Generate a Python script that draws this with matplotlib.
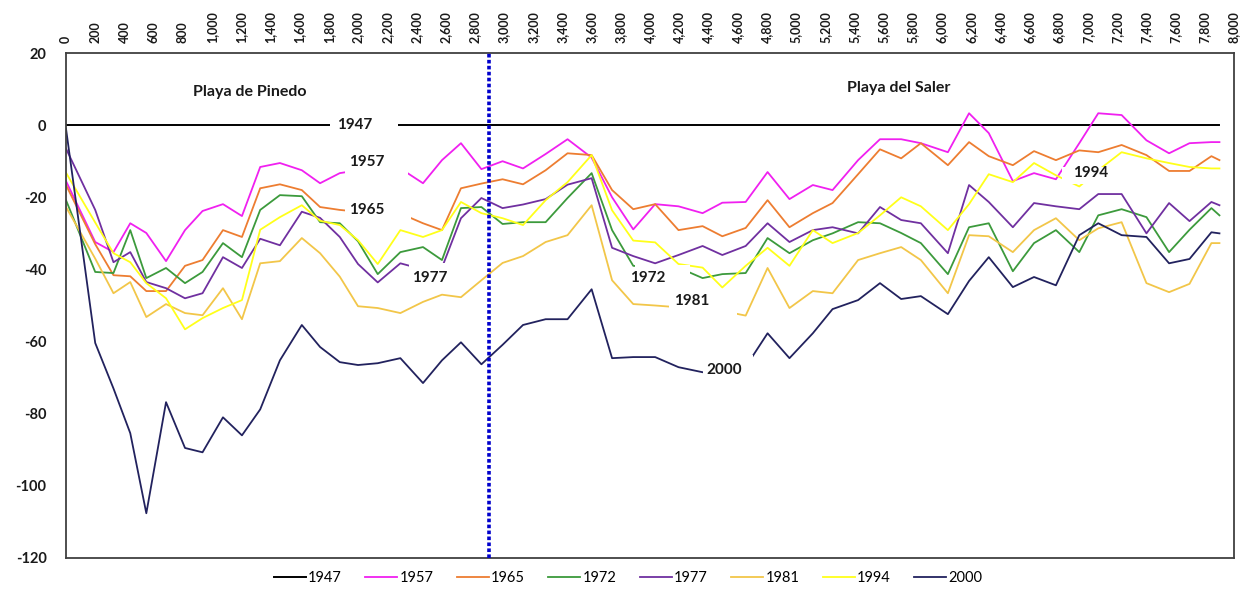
import matplotlib
matplotlib.use("Agg")
import matplotlib.pyplot as plt
from matplotlib.patches import Rectangle
from matplotlib.ticker import FuncFormatter

plt.rcParams['font.family'] = ['Lato', 'DejaVu Sans']
plt.rcParams['axes.unicode_minus'] = False

# distance along the shore (m)
dist = [0, 200, 325, 440, 550, 685, 815, 935, 1075, 1205,
        1330, 1465, 1615, 1740, 1875, 2000, 2135, 2290, 2445, 2575,
        2705, 2845, 2990, 3130, 3285, 3435, 3600, 3740, 3885, 4035,
        4195, 4360, 4495, 4655, 4805, 4955, 5115, 5250, 5425, 5575,
        5720, 5855, 6040, 6185, 6320, 6485, 6630, 6780, 6940, 7070,
        7230, 7400, 7555, 7695, 7845, 7900]

# shoreline change relative to 1947 (m)
s1947 = [0, 0, 0, 0, 0, 0, 0, 0, 0, 0,
         0, 0, 0, 0, 0, 0, 0, 0, 0, 0,
         0, 0, 0, 0, 0, 0, 0, 0, 0, 0,
         0, 0, 0, 0, 0, 0, 0, 0, 0, 0,
         0, 0, 0, 0, 0, 0, 0, 0, 0, 0,
         0, 0, 0, 0, 0, 0]
s1957 = [-15.5, -32.4, -35.2, -27.2, -29.9, -37.7, -29.1, -23.8, -21.9, -25.2,
         -11.6, -10.5, -12.5, -16.1, -13.3, -12.5, -12.0, -12.0, -16.1, -9.7,
         -5.0, -12.2, -10.0, -12.0, -8.0, -3.9, -9.0, -20.0, -28.9, -21.9,
         -22.5, -24.4, -21.5, -21.3, -13.0, -20.5, -16.6, -18.0, -9.7, -3.9,
         -3.9, -5.0, -7.5, 3.3, -2.2, -15.5, -13.3, -15.0, -5.0, 3.3,
         2.8, -4.2, -7.8, -5.0, -4.7, -4.7]
s1965 = [-16.6, -33.0, -41.6, -41.9, -46.0, -46.0, -39.0, -37.4, -29.1, -31.0,
         -17.5, -16.4, -18.0, -22.7, -23.5, -24.0, -24.0, -24.5, -27.2, -29.1,
         -17.5, -16.2, -15.0, -16.4, -12.5, -7.8, -8.3, -18.0, -23.3, -21.9,
         -29.1, -28.0, -30.8, -28.5, -20.8, -28.3, -24.4, -21.6, -13.6, -6.7,
         -9.2, -5.0, -11.1, -4.7, -8.6, -11.1, -7.2, -9.7, -7.0, -7.5,
         -5.5, -8.3, -12.7, -12.7, -8.6, -9.7]
s1972 = [-20.8, -40.7, -41.0, -29.1, -42.4, -39.6, -43.8, -40.7, -32.7, -36.6,
         -23.5, -19.4, -19.7, -26.9, -27.2, -32.2, -41.3, -35.2, -33.8, -37.4,
         -23.0, -22.7, -27.4, -26.9, -26.9, -20.2, -13.3, -29.1, -39.0, -39.5,
         -39.5, -42.4, -41.3, -41.0, -31.3, -35.5, -31.9, -30.0, -26.9, -27.2,
         -29.9, -32.7, -41.3, -28.3, -27.2, -40.5, -32.7, -29.1, -35.2, -25.0,
         -23.3, -25.5, -35.2, -29.0, -23.0, -25.0]
s1977 = [-6.5, -23.5, -38.0, -35.2, -43.5, -45.2, -48.0, -46.6, -36.6, -39.6,
         -31.5, -33.3, -24.0, -25.7, -31.0, -38.5, -43.6, -38.3, -40.0, -39.5,
         -25.8, -20.2, -23.0, -22.0, -20.5, -16.5, -14.7, -34.0, -36.3, -38.3,
         -36.0, -33.5, -36.0, -33.5, -27.2, -32.4, -29.1, -28.3, -30.0, -22.7,
         -26.3, -27.2, -35.5, -16.6, -21.3, -28.3, -21.6, -22.5, -23.3, -19.1,
         -19.1, -30.0, -21.6, -26.6, -21.3, -22.2]
s1981 = [-22.7, -37.0, -46.6, -43.5, -53.2, -49.6, -52.1, -52.7, -45.2, -53.8,
         -38.3, -37.7, -31.3, -35.5, -42.0, -50.2, -50.7, -52.1, -49.0, -47.0,
         -47.7, -43.0, -38.2, -36.3, -32.4, -30.5, -22.2, -43.0, -49.6, -50.0,
         -50.5, -51.0, -51.5, -52.8, -39.6, -50.7, -46.0, -46.6, -37.4, -35.5,
         -33.8, -37.4, -46.6, -30.5, -30.8, -35.2, -29.1, -25.8, -31.9, -28.6,
         -26.9, -43.8, -46.3, -44.0, -32.7, -32.7]
s1994 = [-13.2, -27.0, -35.5, -38.0, -43.8, -48.0, -56.6, -53.5, -50.7, -48.5,
         -29.0, -25.5, -22.2, -26.5, -27.7, -31.9, -38.5, -29.1, -31.0, -29.1,
         -21.3, -24.4, -25.8, -27.7, -20.8, -15.8, -8.3, -23.6, -32.0, -32.5,
         -38.5, -39.5, -45.0, -39.0, -34.0, -39.0, -29.1, -32.7, -29.9, -25.0,
         -20.0, -22.5, -29.1, -21.9, -13.6, -15.8, -10.5, -13.9, -17.0, -12.5,
         -7.5, -9.2, -10.5, -11.6, -12.0, -12.0]
s2000 = [-1.0, -60.4, -73.0, -85.4, -107.6, -76.8, -89.5, -90.7, -81.0, -86.0,
         -78.8, -65.2, -55.4, -61.5, -65.7, -66.5, -66.0, -64.6, -71.5, -65.2,
         -60.2, -66.3, -60.9, -55.4, -53.8, -53.8, -45.5, -64.6, -64.3, -64.3,
         -67.1, -68.5, -68.0, -67.0, -57.7, -64.6, -57.7, -51.0, -48.5, -43.8,
         -48.2, -47.4, -52.4, -43.2, -36.6, -44.9, -42.1, -44.4, -30.5, -27.2,
         -30.5, -31.0, -38.3, -37.1, -29.7, -30.0]

years = ['1947', '1957', '1965', '1972', '1977', '1981', '1994', '2000']
series = [s1947, s1957, s1965, s1972, s1977, s1981, s1994, s2000]
colors = ['#000000', '#F020F0', '#ED7D31', '#3C9A3C', '#7030A0',
          '#F2C649', '#FFFF1A', '#22225E']

fig = plt.figure(figsize=(12.41, 5.95), dpi=100)
ax = fig.add_axes([0.0532, 0.0622, 0.9412, 0.8487])

for yr, vals, c in zip(years, series, colors):
    lw = 1.4 if yr == '1947' else 1.3
    ax.plot(dist, vals, color=c, lw=lw, label=yr, zorder=2)

# limit between the two beaches
ax.axvline(2900, color='#0000CC', lw=2.6, ls=(0, (1.0, 0.65)), zorder=4)

ax.set_xlim(0, 8000)
ax.set_ylim(-120, 20)
ax.xaxis.tick_top()
ax.set_xticks(range(0, 8001, 200))
ax.xaxis.set_major_formatter(FuncFormatter(lambda v, p: f'{int(v):,}'))
ax.set_yticks(range(-120, 21, 20))
ax.tick_params(axis='x', length=0, pad=7, labelsize=9, labelrotation=90)
ax.tick_params(axis='y', length=0, pad=14, labelsize=10.5)
for lab in ax.get_xticklabels() + ax.get_yticklabels():
    lab.set_fontweight('bold')
    lab.set_color('#1a1a1a')
for sp in ax.spines.values():
    sp.set_color('#404040')
    sp.set_linewidth(1.3)

ax.text(1260, 9.3, 'Playa de Pinedo', ha='center', va='center',
        fontsize=11.5, fontweight='bold', color='#1a1a1a')
ax.text(5705, 10.3, 'Playa del Saler', ha='center', va='center',
        fontsize=11.5, fontweight='bold', color='#1a1a1a')


def tag(txt, tx, ty, x0, x1, y0, y1):
    # white box hiding the line behind a year label
    ax.add_patch(Rectangle((x0, y0), x1 - x0, y1 - y0, fc='white',
                           ec='none', zorder=5))
    ax.text(tx, ty, txt, ha='center', va='center', fontsize=11,
            fontweight='bold', color='#1a1a1a', zorder=6)


tag('1947', 1976, 0.0, 1807, 2275, -2.5, 2.5)
tag('1957', 2062, -10.3, 1912, 2343, -14.4, -7.8)
tag('1965', 2062, -23.6, 1912, 2363, -26.5, -20.2)
tag('1977', 2494, -42.4, 2350, 2597, -46.3, -38.2)
tag('1972', 3983, -42.4, 3900, 4277, -46.0, -38.7)
tag('1981', 4285, -48.8, 4128, 4593, -55.0, -46.3)
tag('2000', 4511, -67.9, 4360, 4703, -72.5, -63.8)
tag('1994', 7016, -13.3, 6820, 7160, -16.3, -11.6)

fig.legend(loc='lower center', bbox_to_anchor=(0.506, -0.005), ncol=8,
           frameon=False, fontsize=10.5, handlelength=2.2,
           handletextpad=0.15, columnspacing=1.6)

fig.savefig('out.png', dpi=100)
